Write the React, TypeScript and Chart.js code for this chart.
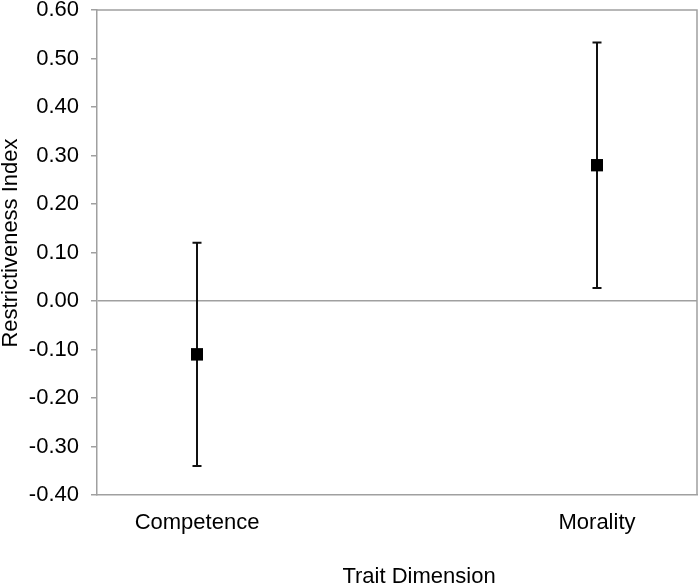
import React, { useEffect, useRef } from "react";
import { Chart, registerables } from "chart.js";

Chart.register(...registerables);

const categories = ["Competence", "Morality"];
const categoryPositions = [1, 5];
const means = [-0.11, 0.28];
const lowerBounds = [-0.34, 0.027];
const upperBounds = [0.12, 0.533];
const yTicks = [-0.4, -0.3, -0.2, -0.1, 0, 0.1, 0.2, 0.3, 0.4, 0.5, 0.6];
const xTitle = "Trait Dimension";
const yTitle = "Restrictiveness Index";

const FONT = "'Liberation Sans', Arial, Helvetica, sans-serif";
const GRAY = "#a0a0a0";

const errorBarPlugin = {
  id: "errorBars",
  afterDatasetsDraw(chart: any) {
    const { ctx, scales, chartArea } = chart;
    const xs = scales.x;
    const ys = scales.y;
    ctx.save();
    ctx.strokeStyle = GRAY;
    ctx.lineWidth = 1.5;
    ctx.beginPath();
    ctx.moveTo(chartArea.left, chartArea.top);
    ctx.lineTo(chartArea.right, chartArea.top);
    ctx.lineTo(chartArea.right, chartArea.bottom);
    ctx.stroke();
    ctx.strokeStyle = "#111";
    ctx.lineWidth = 2;
    for (let i = 0; i < categories.length; i++) {
      const x = xs.getPixelForValue(categoryPositions[i]);
      const yl = ys.getPixelForValue(lowerBounds[i]);
      const yh = ys.getPixelForValue(upperBounds[i]);
      ctx.beginPath();
      ctx.moveTo(x, yl);
      ctx.lineTo(x, yh);
      ctx.moveTo(x - 4.5, yl);
      ctx.lineTo(x + 4.5, yl);
      ctx.moveTo(x - 4.5, yh);
      ctx.lineTo(x + 4.5, yh);
      ctx.stroke();
    }
    const meta = chart.getDatasetMeta(0);
    meta.data.forEach((pt: any) => pt.draw(ctx, chartArea));
    ctx.fillStyle = "#000";
    ctx.font = `22px ${FONT}`;
    ctx.textAlign = "center";
    ctx.textBaseline = "alphabetic";
    ctx.fillText(xTitle, 419, 583);
    ctx.translate(17, 243);
    ctx.rotate(-Math.PI / 2);
    ctx.fillText(yTitle, 0, 0);
    ctx.restore();
  },
};

export default function App() {
  const ref = useRef<HTMLCanvasElement | null>(null);
  useEffect(() => {
    if (!ref.current) return;
    const chart = new Chart(ref.current, {
      type: "scatter",
      data: {
        datasets: [
          {
            label: yTitle,
            data: categoryPositions.map((x, i) => ({ x, y: means[i] })),
            pointStyle: "rect",
            pointRadius: 8.5,
            pointHoverRadius: 8.5,
            backgroundColor: "#000",
            borderColor: "#000",
            borderWidth: 0,
          },
        ],
      },
      plugins: [errorBarPlugin],
      options: {
        animation: false,
        responsive: false,
        layout: { autoPadding: false, padding: { top: 10, right: 3, left: 0, bottom: 0 } },
        plugins: {
          legend: { display: false },
          tooltip: { enabled: false },
        },
        scales: {
          x: {
            type: "linear",
            min: 0,
            max: 6,
            afterBuildTicks: (axis: any) => {
              axis.ticks = categoryPositions.map((v) => ({ value: v }));
            },
            afterFit: (axis: any) => {
              axis.height = 91;
              axis.paddingLeft = 0;
              axis.paddingRight = 0;
            },
            ticks: {
              autoSkip: false,
              maxRotation: 0,
              padding: 15,
              color: "#000",
              font: { family: FONT, size: 22 },
              callback: (v: any) => {
                const idx = categoryPositions.indexOf(Number(v));
                return idx >= 0 ? categories[idx] : "";
              },
            },
            grid: { display: false, drawTicks: false },
            border: { color: GRAY, width: 1.5 },
          },
          y: {
            min: -0.4,
            max: 0.6,
            afterBuildTicks: (axis: any) => {
              axis.ticks = yTicks.map((v) => ({ value: v }));
            },
            afterFit: (axis: any) => {
              axis.width = 97;
              axis.paddingTop = 0;
              axis.paddingBottom = 0;
            },
            ticks: {
              padding: 12,
              color: "#000",
              font: { family: FONT, size: 22 },
              callback: (v: any) => Number(v).toFixed(2),
            },
            grid: {
              color: (c: any) => (c.tick && Math.abs(c.tick.value) < 1e-9 ? GRAY : "rgba(0,0,0,0)"),
              tickColor: GRAY,
              tickLength: 6,
              lineWidth: 1.5,
            },
            border: { color: GRAY, width: 1.5 },
          },
        },
      },
    });
    return () => chart.destroy();
  }, []);
  return (
    <div style={{ position: "fixed", left: 0, top: 0, width: 700, height: 586, background: "#fff" }}>
      <canvas ref={ref} width={700} height={586} style={{ display: "block", width: 700, height: 586 }} />
    </div>
  );
}
